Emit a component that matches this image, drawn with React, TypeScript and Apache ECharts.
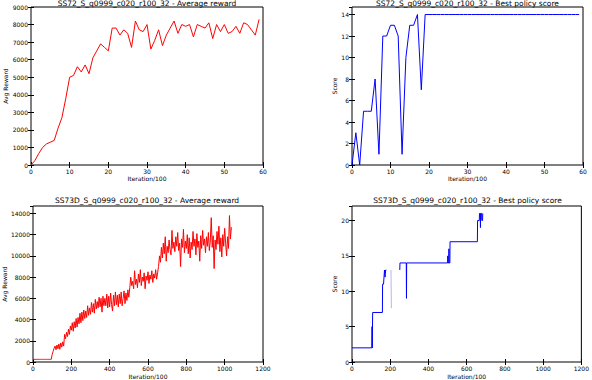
import React, { useEffect, useRef } from "react";
import * as echarts from "echarts";

// ---------- Data ----------
const titles = [
  "SS72_S_q0999_c020_r100_32 - Average reward",
  "SS72_S_q0999_c020_r100_32 - Best policy score",
  "SS73D_S_q0999_c020_r100_32 - Average reward",
  "SS73D_S_q0999_c020_r100_32 - Best policy score",
];
const xAxisName = "Iteration/100";
const rewardName = "Avg Reward";
const scoreName = "Score";

// Panel 1: SS72 average reward, one value per iteration 0..59
const p1Reward = [
  0, 250, 650, 1000, 1200, 1300, 1400, 2100, 2700, 3800,
  5000, 5100, 5600, 5300, 5700, 5200, 6100, 6500, 6900, 6700,
  6500, 7800, 7800, 7400, 7700, 7500, 6700, 8200, 7700, 7600,
  8000, 6600, 7100, 7700, 6800, 7400, 7800, 8200, 7500, 8000,
  7900, 8000, 7300, 8000, 7900, 7800, 8100, 7200, 8000, 7600,
  8000, 7500, 7600, 7900, 7500, 8100, 8000, 7700, 7400, 8300,
];

// Panel 2: SS72 best policy score, iteration 0..59
const p2Score = [
  0, 3, 0, 5, 5, 5, 8, 1, 12, 12,
  13, 13, 12, 1, 10, 13, 13, 14, 7, 14,
  14, 14, 14, 14, 14, 14, 14, 14, 14, 14,
  14, 14, 14, 14, 14, 14, 14, 14, 14, 14,
  14, 14, 14, 14, 14, 14, 14, 14, 14, 14,
  14, 14, 14, 14, 14, 14, 14, 14, 14, 14,
];

// Panel 3: SS73D average reward, sampled every 5 iterations from 0
const p3Step = 5;
const p3Reward = [
  250, 250, 250, 250, 250, 250, 250, 250, 250, 250,
  250, 250, 250, 250, 250, 250, 250, 250, 250, 250,
  700, 1000, 1300, 1500, 1150, 1600, 1250, 1700, 1200, 1800,
  1400, 1900, 1500, 2600, 2200, 2800, 2400, 3100, 2600, 3400,
  3000, 3700, 2900, 3800, 3200, 4100, 3300, 4200, 3600, 4600,
  3700, 4700, 3900, 4900, 4100, 4800, 4200, 5300, 4400, 5100,
  4500, 5600, 4700, 5500, 4600, 5900, 5000, 5700, 5100, 6100,
  5200, 6000, 4700, 6200, 5300, 6000, 5300, 6400, 5100, 6200,
  5200, 6500, 5400, 4800, 6300, 5300, 6600, 5400, 6300, 5200,
  6400, 5500, 6600, 5300, 6000, 6700, 5500, 6500, 5800, 6800,
  6100, 7000, 8000, 7200, 7600, 6900, 8600, 7300, 7800, 7000,
  8300, 7500, 8700, 7200, 8000, 7600, 8400, 6900, 8100, 7700,
  8500, 7400, 8200, 7800, 8600, 7500, 8300, 7900, 8700, 7800,
  8400, 9000, 10000, 9400, 10800, 9800, 11200, 10200, 11800, 9500,
  10900, 10300, 11500, 10600, 10100, 12400, 10700, 11300, 10400, 11800,
  10900, 12200, 10500, 11200, 9000, 11600, 10800, 12500, 10300, 11400,
  10700, 12000, 10200, 11700, 9800, 11300, 10600, 12300, 10900, 11600,
  10100, 12100, 10800, 11400, 9500, 11900, 10700, 12400, 11000, 11600,
  10300, 11800, 10900, 12200, 10500, 11400, 13600, 10800, 11900, 8800,
  11500, 10600, 12300, 11100, 12800, 10400, 11700, 9900, 12000, 10900,
  12600, 11200, 10000, 11800, 10700, 13800, 11600, 12700,
];

// Panel 4: SS73D best policy score, change points ("-" = no data)
const p4Iter = [
  0, 104, 105, 106, 108, 159, 160, 165, 170, 173, 176, 180, 181,
  250, 251, 284, 285, 286, 500, 501, 502, 506, 507, 508, 512, 513,
  656, 657, 666, 667, 671, 672, 673, 678, 679, 683, 684, 686,
];
const p4Score: (number | string)[] = [
  2, 2, 5, 2, 7, 7, 11, 11, 13, 12, 13, 13, "-",
  13, 14, 14, 9, 14, 14, 15, 14, 14, 16, 14, 14, 17,
  17, 20, 20, 21, 21, 19, 21, 21, 20, 20, 21, 21,
];
const p4FaintIter = [204, 206];
const p4FaintScore = [13, 7.6];

// ---------- Component ----------
const FONT = "DejaVu Sans";

export default function App() {
  const ref = useRef<HTMLDivElement>(null);

  useEffect(() => {
    if (!ref.current) return;
    const chart = echarts.init(ref.current, undefined, { renderer: "svg" });

    const grids = [
      { left: 31, top: 7, width: 232, height: 158 },
      { left: 352, top: 7, width: 231, height: 158 },
      { left: 31, top: 206, width: 232, height: 157 },
      { left: 352, top: 206, width: 231, height: 157 },
    ].map((g) => ({
      ...g,
      show: true,
      borderColor: "#000",
      borderWidth: 1,
      backgroundColor: "transparent",
      containLabel: false,
    }));

    const xCfg = [
      { min: 0, max: 60, interval: 10, gap: 10 },
      { min: 0, max: 60, interval: 10, gap: 10 },
      { min: 0, max: 1200, interval: 200, gap: 11 },
      { min: 0, max: 1200, interval: 200, gap: 11 },
    ];
    const yCfg = [
      { min: 0, max: 9000, interval: 1000, name: rewardName, gap: 21.5 },
      { min: 0, max: 14.7, interval: 2, name: scoreName, gap: 14 },
      { min: 0, max: 14700, interval: 2000, name: rewardName, gap: 26 },
      { min: 0, max: 22.05, interval: 5, name: scoreName, gap: 13.5 },
    ];

    const plain = (v: number) => String(v);
    const tick = { show: true, inside: true, length: 3, lineStyle: { color: "#000", width: 1 } };
    const label = { color: "#000", fontSize: 6, fontFamily: FONT, margin: 3, formatter: plain };
    const nameStyle = { color: "#000", fontSize: 6, fontFamily: FONT };

    const xAxes: any[] = [];
    const yAxes: any[] = [];
    xCfg.forEach((c, i) => {
      xAxes.push({
        type: "value", gridIndex: i, position: "bottom", min: c.min, max: c.max, interval: c.interval,
        axisLine: { show: false }, axisTick: tick, splitLine: { show: false },
        axisLabel: { ...label, showMaxLabel: true },
        name: xAxisName, nameLocation: "middle", nameGap: c.gap, nameTextStyle: nameStyle,
      });
    });
    xCfg.forEach((c, i) => {
      xAxes.push({
        type: "value", gridIndex: i, position: "top", min: c.min, max: c.max, interval: c.interval,
        axisLine: { show: false }, axisTick: tick, splitLine: { show: false },
        axisLabel: { show: false },
      });
    });
    yCfg.forEach((c, i) => {
      yAxes.push({
        type: "value", gridIndex: i, position: "left", min: c.min, max: c.max, interval: c.interval,
        axisLine: { show: false }, axisTick: tick, splitLine: { show: false },
        axisLabel: { ...label, showMaxLabel: i === 0 },
        name: c.name, nameLocation: "middle", nameGap: c.gap, nameTextStyle: nameStyle,
      });
    });
    yCfg.forEach((c, i) => {
      yAxes.push({
        type: "value", gridIndex: i, position: "right", min: c.min, max: c.max, interval: c.interval,
        axisLine: { show: false }, axisTick: tick, splitLine: { show: false },
        axisLabel: { show: false },
      });
    });

    const lineBase = { type: "line", showSymbol: false, symbol: "none", connectNulls: false, silent: true };

    const series: any[] = [
      {
        ...lineBase, xAxisIndex: 0, yAxisIndex: 0,
        data: p1Reward.map((v, i) => [i, v]),
        lineStyle: { color: "#ff0000", width: 1 },
      },
      {
        ...lineBase, xAxisIndex: 1, yAxisIndex: 1,
        data: p2Score.map((v, i) => [i, v]),
        lineStyle: { color: "#0000ff", width: 1 },
      },
      {
        ...lineBase, xAxisIndex: 2, yAxisIndex: 2,
        data: p3Reward.map((v, i) => [i * p3Step, v]),
        lineStyle: { color: "#ff0000", width: 1 },
      },
      {
        ...lineBase, xAxisIndex: 3, yAxisIndex: 3,
        data: p4Iter.map((x, i) => [x, p4Score[i]]),
        lineStyle: { color: "#0000ff", width: 1 },
      },
      {
        ...lineBase, xAxisIndex: 3, yAxisIndex: 3,
        data: p4FaintIter.map((x, i) => [x, p4FaintScore[i]]),
        lineStyle: { color: "rgba(0,0,255,0.3)", width: 1 },
      },
    ];

    const titlePos = [
      { x: 147, y: 3.6 },
      { x: 467.5, y: 3.6 },
      { x: 147, y: 200.9 },
      { x: 467.5, y: 200.9 },
    ];
    const graphic = titles.map((t, i) => ({
      type: "text",
      x: titlePos[i].x,
      y: titlePos[i].y,
      silent: true,
      style: {
        text: t,
        fill: "#000",
        font: `7.5px "${FONT}"`,
        textAlign: "center",
        textVerticalAlign: "middle",
      },
    }));

    chart.setOption({
      animation: false,
      backgroundColor: "#fff",
      grid: grids,
      xAxis: xAxes,
      yAxis: yAxes,
      series,
      graphic,
    });

    return () => chart.dispose();
  }, []);

  return (
    <div
      ref={ref}
      style={{ position: "fixed", left: 0, top: 0, width: 592, height: 380 }}
    />
  );
}
